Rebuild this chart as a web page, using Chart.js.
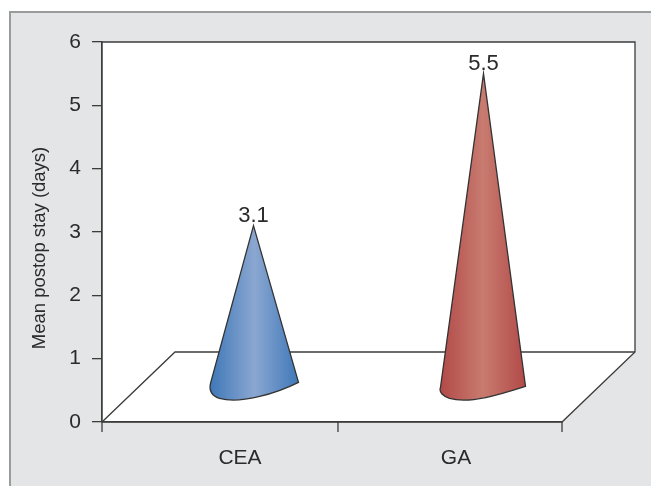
<!DOCTYPE html>
<html>
<head>
<meta charset="utf-8">
<title>Mean postop stay</title>
<script src="https://cdn.jsdelivr.net/npm/chart.js@4"></script>
<style>
    html, body { margin: 0; padding: 0; background: #fff; overflow: hidden; }
    #panel { position: absolute; left: 9px; top: 11px; right: 0; bottom: 0; background: #e4e5e7; border-top: 2px solid #9a9b9d; border-left: 2px solid #9a9b9d; }
    #chart { position: absolute; left: 0; top: 0; }
</style>
</head>
<body>
<div id="panel"></div>
<canvas id="chart" width="651" height="486"></canvas>
<script>
const categories = ['CEA', 'GA'];
const stayValues = [3.1, 5.5];
const yTicks = [0, 1, 2, 3, 4, 5, 6];
const yTitle = 'Mean postop stay (days)';

const coneEdge = ['#3f78b8', '#b24a48'];
const coneMiddle = ['#8ba7d1', '#c87b70'];
const lineColor = '#3c3c3c';
const textColor = '#2b2b2b';
const fontFamily = '"Liberation Sans", Arial, sans-serif';

// floor depth of the fake 3D box
const depthX = 73;
const depthY = 70;
// label nudges along the x axis, the picture does not centre them
const labelShift = [23, 9];
// cone base differs a little between the two
const baseLift = [39, 35];
const baseRight = [45, 42];

function drawBox(chart) {
    const { ctx, chartArea: a } = chart;
    ctx.save();
    ctx.fillStyle = '#fff';
    ctx.beginPath();
    ctx.moveTo(a.left, a.top);
    ctx.lineTo(a.right + depthX, a.top);
    ctx.lineTo(a.right + depthX, a.bottom - depthY);
    ctx.lineTo(a.right, a.bottom);
    ctx.lineTo(a.left, a.bottom);
    ctx.closePath();
    ctx.fill();
    ctx.strokeStyle = lineColor;
    ctx.lineWidth = 1.3;
    ctx.stroke();
    // back edge of the floor
    ctx.beginPath();
    ctx.moveTo(a.left, a.bottom);
    ctx.lineTo(a.left + depthX, a.bottom - depthY);
    ctx.lineTo(a.right + depthX, a.bottom - depthY);
    ctx.stroke();
    ctx.restore();
}

function drawCone(ctx, bar, i) {
    const tipX = bar.x + depthX / 2;
    const tipY = bar.y;
    const baseY = bar.base - baseLift[i];
    const bottomY = bar.base - 21;
    const left = tipX - 43;
    const right = tipX + baseRight[i];

    const grad = ctx.createLinearGradient(left, 0, right, 0);
    grad.addColorStop(0, coneEdge[i]);
    grad.addColorStop(0.5, coneMiddle[i]);
    grad.addColorStop(1, coneEdge[i]);

    ctx.beginPath();
    ctx.moveTo(tipX, tipY);
    ctx.lineTo(right, baseY);
    ctx.bezierCurveTo(right - 22, bottomY - 7, left + 30, bottomY + 4, left + 9, bottomY - 2);
    ctx.bezierCurveTo(left + 3, bottomY - 4, left - 2, bottomY - 8, left, baseY + 1);
    ctx.closePath();
    ctx.fillStyle = grad;
    ctx.fill();
    ctx.strokeStyle = '#333';
    ctx.lineWidth = 1.3;
    ctx.stroke();

    ctx.fillStyle = textColor;
    ctx.font = '22px ' + fontFamily;
    ctx.textAlign = 'center';
    ctx.textBaseline = 'alphabetic';
    ctx.fillText(stayValues[i], tipX, tipY - 4);
}

const conePlugin = {
    id: 'cones',
    beforeDraw: drawBox,
    afterDatasetsDraw(chart) {
        const { ctx, chartArea: a, scales } = chart;
        ctx.save();
        chart.getDatasetMeta(0).data.forEach((bar, i) => drawCone(ctx, bar, i));

        // x axis ticks and labels
        ctx.strokeStyle = lineColor;
        ctx.lineWidth = 1.3;
        [a.left, a.left + a.width * 0.513, a.right].forEach(x => {
            ctx.beginPath();
            ctx.moveTo(x, a.bottom);
            ctx.lineTo(x, a.bottom + 10);
            ctx.stroke();
        });
        ctx.fillStyle = textColor;
        ctx.font = '21px ' + fontFamily;
        ctx.textAlign = 'center';
        ctx.textBaseline = 'alphabetic';
        categories.forEach((c, i) => {
            ctx.fillText(c, scales.x.getPixelForValue(i) + labelShift[i], a.bottom + 42);
        });

        // y title sits below the middle of the axis in the picture
        ctx.translate(45, (a.top + a.bottom) / 2 + 16);
        ctx.rotate(-Math.PI / 2);
        ctx.font = '18.5px ' + fontFamily;
        ctx.fillText(yTitle, 0, 0);
        ctx.restore();
    }
};

new Chart(document.getElementById('chart').getContext('2d'), {
    type: 'bar',
    data: {
        labels: categories,
        datasets: [{
            label: yTitle,
            data: stayValues,
            backgroundColor: 'rgba(0,0,0,0)'
        }]
    },
    options: {
        responsive: false,
        animation: false,
        layout: { padding: { top: 42, right: 89, bottom: 20, left: 0 } },
        plugins: { legend: { display: false }, tooltip: { enabled: false } },
        scales: {
            x: {
                afterFit(scale) { scale.height = 44; },
                grid: { display: false },
                border: { color: lineColor, width: 1.3 },
                ticks: { display: false }
            },
            y: {
                min: yTicks[0],
                max: yTicks[yTicks.length - 1],
                afterFit(scale) { scale.width = 102; },
                afterBuildTicks(scale) { scale.ticks = yTicks.map(v => ({ value: v })); },
                grid: { drawOnChartArea: false, color: lineColor, lineWidth: 1.3, tickLength: 10 },
                border: { color: lineColor, width: 1.3 },
                ticks: { color: textColor, padding: 11, font: { family: fontFamily, size: 21 } }
            }
        }
    },
    plugins: [conePlugin]
});
</script>
</body>
</html>
